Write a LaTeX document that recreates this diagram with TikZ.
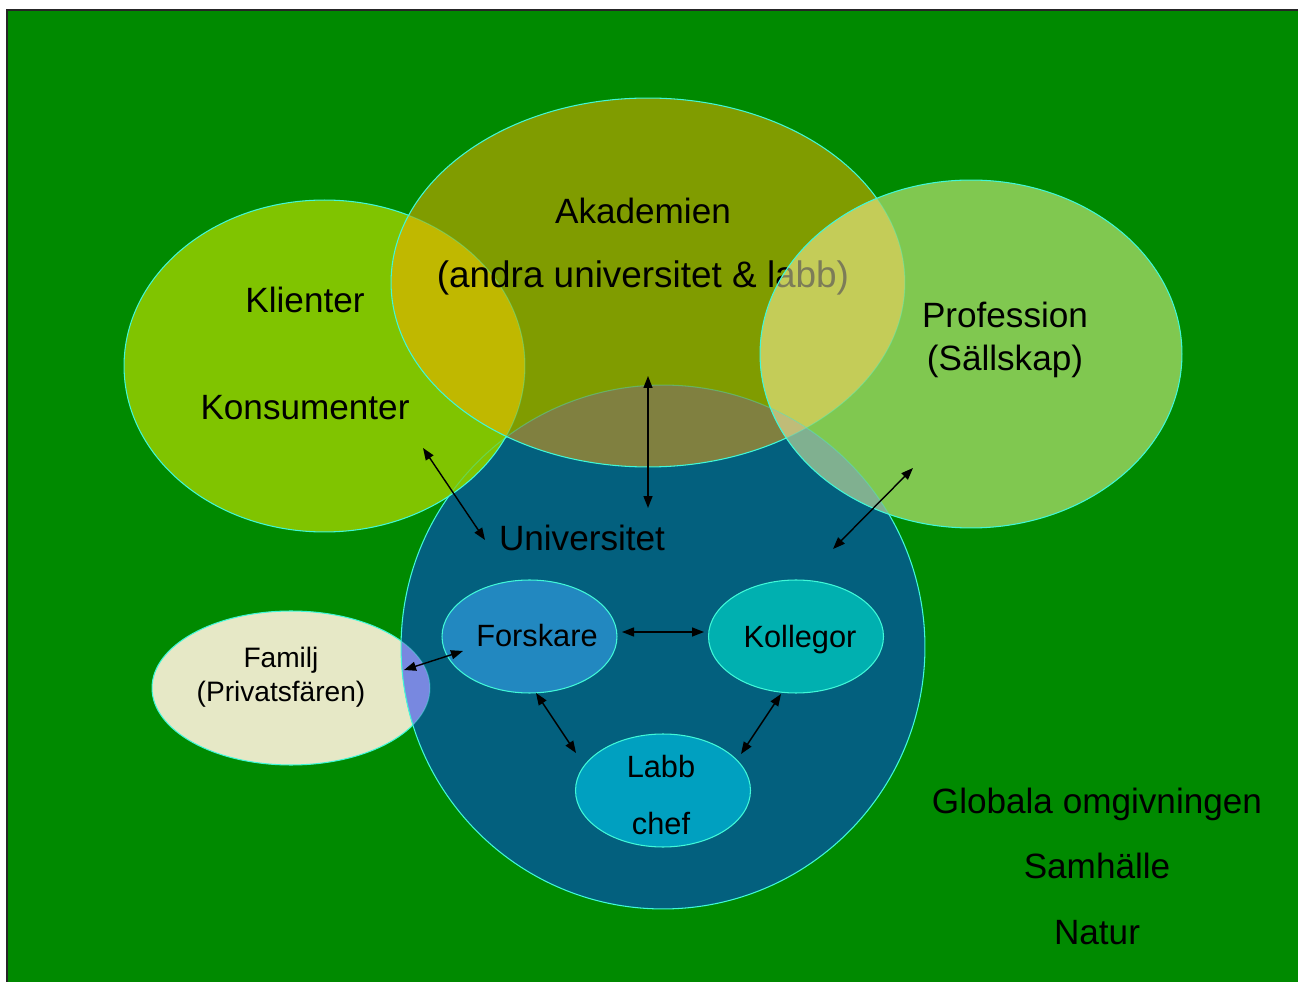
\documentclass[tikz,border=0pt]{standalone}
\usepackage{fontspec}
\setmainfont{Liberation Sans}
\usetikzlibrary{arrows.meta,shapes.geometric}

\definecolor{bggreen}{HTML}{008A00}
\definecolor{klientcol}{HTML}{80C400}
\definecolor{akadcol}{HTML}{809C00}
\definecolor{klakcol}{HTML}{C0B800}
\definecolor{univcol}{HTML}{03607E}
\definecolor{akunicol}{HTML}{808040}
\definecolor{profcol}{HTML}{80C850}
\definecolor{prakcol}{HTML}{C4CC58}
\definecolor{prunicol}{HTML}{80B090}
\definecolor{triplecol}{HTML}{C0BC78}
\definecolor{familjcol}{HTML}{E6E8C6}
\definecolor{faunicol}{HTML}{7888E0}
\definecolor{forskcol}{HTML}{2288C0}
\definecolor{kollcol}{HTML}{00B0B0}
\definecolor{labbcol}{HTML}{00A0C0}
\definecolor{rimcol}{HTML}{40F8D8}
\definecolor{labbgrey}{HTML}{7C7C58}

% the big overlapping shapes
\def\familjpath{(291,688) ellipse [x radius=2.78cm, y radius=1.54cm]}
\def\univpath{(663,647) circle [radius=5.24cm]}
\def\klienterpath{(324.5,366) ellipse [x radius=4.01cm, y radius=3.32cm]}
\def\akadpath{(648,282.5) ellipse [x radius=5.14cm, y radius=3.69cm]}
\def\profpath{(971,354) ellipse [x radius=4.22cm, y radius=3.48cm]}

\begin{document}
\begin{tikzpicture}[x=0.02cm,y=-0.02cm,
  rim/.style={draw=rimcol, line width=0.6pt},
  ghost/.style={draw=rimcol, draw opacity=0.35, line width=0.6pt},
  biglbl/.style={font=\fontsize{20}{24}\selectfont, inner sep=0pt},
  midlbl/.style={font=\fontsize{17.5}{32.3}\selectfont, inner sep=0pt, align=center},
  smalllbl/.style={font=\fontsize{16}{19.3}\selectfont, inner sep=0pt, align=center},
  blob/.style={ellipse, rim, inner sep=0pt, minimum width=3.5cm, minimum height=2.26cm},
  link/.style={{Triangle[length=2.4mm,width=1.8mm]}-{Triangle[length=2.4mm,width=1.8mm]}, line width=0.8pt}]
\useasboundingbox (0,0) rectangle (1298,982);

% background
\fill[bggreen] (7,10) rectangle (1300,984);
\draw[black!85, line width=1.2pt] (7,984) -- (7,10) -- (1300,10);

% Familj
\fill[familjcol] \familjpath;
\draw[rim] \familjpath;

% Universitet
\fill[univcol] \univpath;
\begin{scope}
  \clip \univpath;
  \fill[faunicol] \familjpath;
  \draw[ghost] \familjpath;
\end{scope}
\draw[rim] \univpath;

% Klienter
\fill[klientcol] \klienterpath;
\begin{scope}
  \clip \klienterpath;
  \draw[ghost] \univpath;
\end{scope}
\draw[rim] \klienterpath;

% Akademien
\fill[akadcol] \akadpath;
\begin{scope}
  \clip \akadpath;
  \fill[akunicol] \univpath;
  \fill[klakcol] \klienterpath;
  \draw[ghost] \univpath;
  \draw[ghost] \klienterpath;
\end{scope}
\draw[rim] \akadpath;
\node[biglbl, font=\fontsize{21}{24}\selectfont] (akadsub) at (643,278) {(andra universitet \& labb)};

% Profession
\fill[profcol] \profpath;
\begin{scope}
  \clip \profpath;
  \fill[prakcol] \akadpath;
  \fill[prunicol] \univpath;
  \begin{scope}
    \clip \akadpath;
    \fill[triplecol] \univpath;
  \end{scope}
  \draw[ghost] \akadpath;
  \draw[ghost] \univpath;
  \node[biglbl, font=\fontsize{21}{24}\selectfont, text=labbgrey] (akadsubgrey) at (643,278) {(andra universitet \& labb)};
\end{scope}
\draw[rim] \profpath;

% inner ellipses
\node[blob, fill=forskcol] (forskare) at (529.5,636.5) {};
\node[blob, fill=kollcol] (kollegor) at (796,636.5) {};
\node[blob, fill=labbcol] (labbchef) at (663,790.5) {};
\node[midlbl] (forsktxt) at (537,636) {Forskare};
\node[midlbl] (kolltxt) at (800,640) {Kollegor};
\node[midlbl] (labbtxt) at (661,795) {Labb\\chef};

% labels
\node[biglbl] (akadtxt) at (643,211) {Akademien};
\node[biglbl] (klitxt) at (305,300) {Klienter};
\node[biglbl] (konstxt) at (305,408) {Konsumenter};
\node[biglbl, align=center] (proftxt) at (1005,340) {Profession\\(Sällskap)};
\node[biglbl] (univtxt) at (582,538) {Universitet};
\node[smalllbl] (familjtxt) at (281,677) {Familj\\(Privatsfären)};
\node[biglbl] (globtxt) at (1097,804) {Globala omgivningen};
\node[biglbl] (samtxt) at (1097,866) {Samhälle};
\node[biglbl] (naturtxt) at (1097,933) {Natur};

% arrow ends
\coordinate (kli-end) at (423,448);
\coordinate (uni-kli) at (485,540);
\coordinate (akad-end) at (648,376);
\coordinate (uni-akad) at (648,508);
\coordinate (prof-end) at (913,468);
\coordinate (uni-prof) at (833,549);
\coordinate (fam-end) at (404,670);
\coordinate (forsk-fam) at (463,651);
\coordinate (forsk-koll) at (622,632);
\coordinate (koll-forsk) at (704,632);
\coordinate (forsk-labb) at (536,693);
\coordinate (labb-forsk) at (576,753);
\coordinate (koll-labb) at (781,694);
\coordinate (labb-koll) at (741,754);

\draw[link] (kli-end) -- (uni-kli);
\draw[link] (akad-end) -- (uni-akad);
\draw[link] (prof-end) -- (uni-prof);
\draw[link] (fam-end) -- (forsk-fam);
\draw[link] (forsk-koll) -- (koll-forsk);
\draw[link] (forsk-labb) -- (labb-forsk);
\draw[link] (koll-labb) -- (labb-koll);
\end{tikzpicture}
\end{document}
